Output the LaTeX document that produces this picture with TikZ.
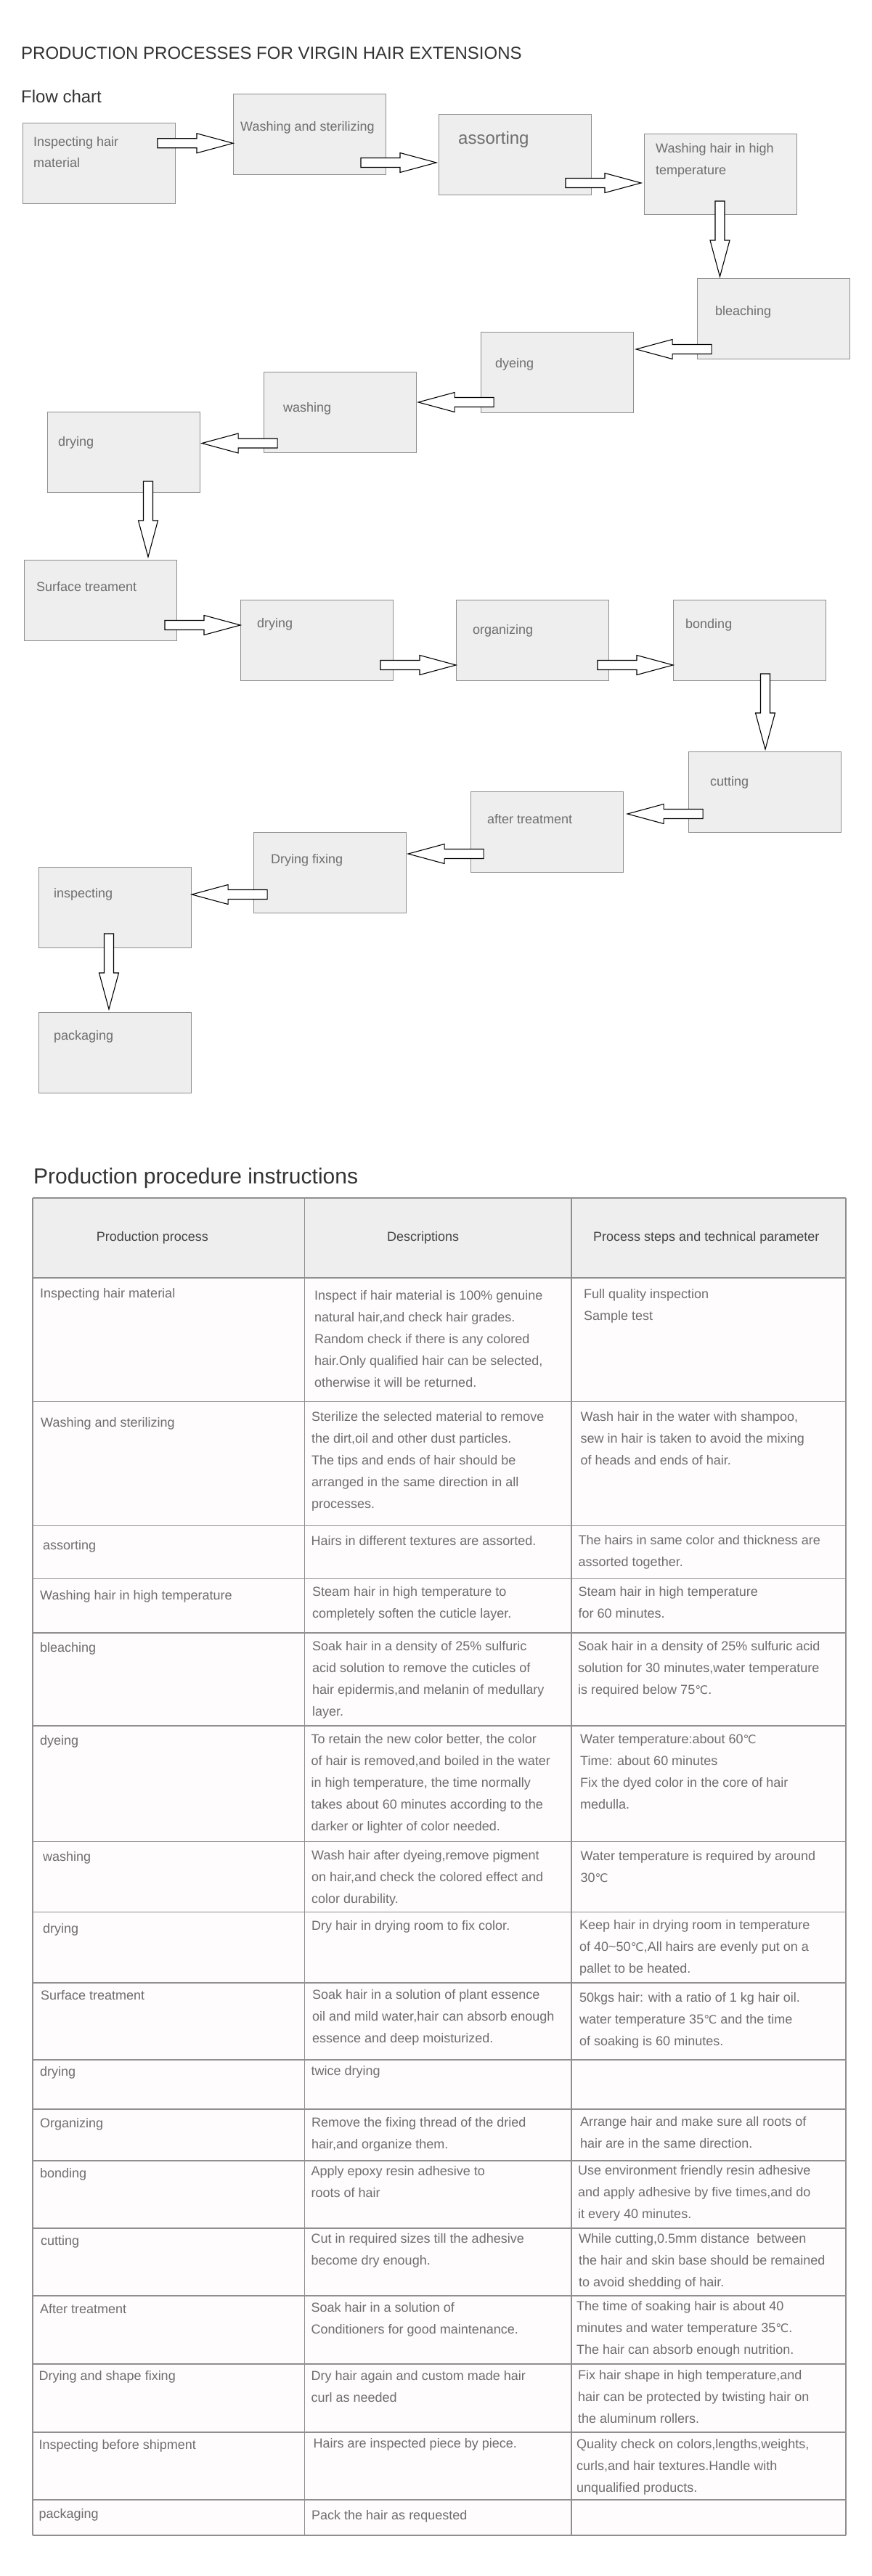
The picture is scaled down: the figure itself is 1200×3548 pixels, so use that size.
\documentclass[tikz,border=0pt]{standalone}
\usepackage{fontspec}
\setmainfont{Liberation Sans}
\newfontfamily\degfont{DejaVu Sans}
\usetikzlibrary{calc}
\definecolor{boxfill}{HTML}{EEEEEE}
\definecolor{boxline}{HTML}{8E8E8E}
\definecolor{txtgray}{HTML}{6E6E6E}
\definecolor{hdrtxt}{HTML}{444444}
\definecolor{ttltxt}{HTML}{333333}
\definecolor{hdrfill}{HTML}{EEEEEE}
\definecolor{bodyfill}{HTML}{FEFCFC}
\definecolor{tline}{HTML}{8F8F8F}
\newcommand\dc{{\degfont\fontsize{16}{30}\selectfont ℃}}
\newcommand\ctext[4]{\foreach \t [count=\i] in {#4} {\node[cellt] (#1-\i) at ({#2},{#3+30*(\i-1)}) {\t};}}
\begin{document}
\begin{tikzpicture}[x=1pt,y=-1pt,
  fbox/.style={draw=boxline,fill=boxfill,line width=1.1pt,anchor=north west,minimum width=210,minimum height=111,inner sep=0},
  ftext/.style={anchor=base west,inner sep=0,text=txtgray,font=\fontsize{18}{30}\selectfont},
  cellt/.style={anchor=base west,inner sep=0,text=txtgray,font=\fontsize{18}{30}\selectfont},
  hcell/.style={anchor=base west,inner sep=0,text=hdrtxt,font=\fontsize{18}{30}\selectfont},
  ttl/.style={anchor=base west,inner sep=0,text=ttltxt},
  blkarr/.style={draw=black,fill=white,line width=1.1pt,line join=miter},
  barrowpic/.pic={\draw[blkarr] (0,0) -- (-50,-13.5) -- (-50,-6.5) -- (-104,-6.5) -- (-104,6.5) -- (-50,6.5) -- (-50,13.5) -- cycle;}
]
\fill[white] (0,0) rectangle (1200,3548);
\useasboundingbox (0,0) rectangle (1200,3548);

% titles
\node[ttl,font=\fontsize{24}{28}\selectfont] (title) at (29,81.7) {PRODUCTION PROCESSES FOR VIRGIN HAIR EXTENSIONS};
\node[ttl,font=\fontsize{24}{28}\selectfont] (flow) at (29,141.5) {Flow chart};

% flow boxes
\node[fbox] (b1) at (31,169) {};
\node[fbox] (b2) at (321,129) {};
\node[fbox] (b3) at (604,157) {};
\node[fbox] (b4) at (887,184) {};
\node[fbox] (b5) at (960,383) {};
\node[fbox] (b6) at (662,457) {};
\node[fbox] (b7) at (363,512) {};
\node[fbox] (b8) at (65,567) {};
\node[fbox] (b9) at (33,771) {};
\node[fbox] (b10) at (331,826) {};
\node[fbox] (b11) at (628,826) {};
\node[fbox] (b12) at (927,826) {};
\node[fbox] (b13) at (948,1035) {};
\node[fbox] (b14) at (648,1090) {};
\node[fbox] (b15) at (349,1146) {};
\node[fbox] (b16) at (53,1194) {};
\node[fbox] (b17) at (53,1394) {};

% block arrows
\pic at (b2.west |- 0,197.3) {barrowpic};
\pic at ($(b3.west |- 0,224)+(-3,0)$) {barrowpic};
\pic at ($(b4.west |- 0,252)+(-4,0)$) {barrowpic};
\pic[rotate=-90] at ($(b5.north -| 991.5,0)+(0,-2)$) {barrowpic};
\pic[rotate=180] at ($(b6.east |- 0,481)+(3,0)$) {barrowpic};
\pic[rotate=180] at ($(b7.east |- 0,554)+(2,0)$) {barrowpic};
\pic[rotate=180] at ($(b8.east |- 0,610.5)+(2,0)$) {barrowpic};
\pic[rotate=-90] at ($(b9.north -| 204,0)+(0,-4)$) {barrowpic};
\pic at (b10.west |- 0,861) {barrowpic};
\pic at (b11.west |- 0,916) {barrowpic};
\pic at (b12.west |- 0,916) {barrowpic};
\pic[rotate=-90] at ($(b13.north -| 1054,0)+(0,-3)$) {barrowpic};
\pic[rotate=180] at ($(b14.east |- 0,1121)+(5,0)$) {barrowpic};
\pic[rotate=180] at ($(b15.east |- 0,1176)+(2,0)$) {barrowpic};
\pic[rotate=180] at (b16.east |- 0,1232) {barrowpic};
\pic[rotate=-90] at ($(b17.north -| 150,0)+(0,-4)$) {barrowpic};

% flow texts
\node[ftext] (t1a) at (46,201.7) {Inspecting hair};
\node[ftext] (t1b) at (46,231) {material};
\node[ftext] (t2) at (331,181) {Washing and sterilizing};
\node[ftext,font=\fontsize{24}{30}\selectfont] (t3) at (631,199) {assorting};
\node[ftext] (t4a) at (903,211) {Washing hair in high};
\node[ftext] (t4b) at (903,241) {temperature};
\node[ftext] (t5) at (985,434.7) {bleaching};
\node[ftext] (t6) at (682,506.7) {dyeing};
\node[ftext] (t7) at (390,567.7) {washing};
\node[ftext] (t8) at (80,614.3) {drying};
\node[ftext] (t9) at (50,814.3) {Surface treament};
\node[ftext] (t10) at (354,864.3) {drying};
\node[ftext] (t11) at (651,873.3) {organizing};
\node[ftext] (t12) at (944,865) {bonding};
\node[ftext] (t13) at (978,1082.7) {cutting};
\node[ftext] (t14) at (671,1134) {after treatment};
\node[ftext] (t15) at (373,1189.3) {Drying fixing};
\node[ftext] (t16) at (74,1236.7) {inspecting};
\node[ftext] (t17) at (74,1432.7) {packaging};

% table title
\node[ttl,font=\fontsize{30}{34}\selectfont] (ppi) at (46,1630) {Production procedure instructions};

% table grid
\fill[hdrfill] (45,1650) rectangle (1165,1760);
\fill[bodyfill] (45,1760) rectangle (1165,3492);
\foreach \y in {1650,1760,1930.5,2101.7,2174.7,2249,2377,2536.5,2633.5,2731,2837,2905,2976,3069,3162,3256,3350,3443,3492}
  \draw[tline,line width=1.4pt] (45,\y) -- (1165,\y);
\foreach \x in {45,419.7,787,1165}
  \draw[tline,line width=1.4pt] (\x,1650) -- (\x,3492);

% header
\node[hcell] (h1) at (132.7,1709) {Production process};
\node[hcell] (h2) at (533,1709) {Descriptions};
\node[hcell] (h3) at (817,1709) {Process steps and technical parameter};

% rows
\ctext{r1a}{55}{1787}{{Inspecting hair material}}
\ctext{r1b}{433}{1790}{{Inspect if hair material is 100\% genuine},{natural hair,and check hair grades.},{Random check if there is any colored},{hair.Only qualified hair can be selected,},{otherwise it will be returned.}}
\ctext{r1c}{804}{1788}{{Full quality inspection},{Sample test}}

\ctext{r2a}{56}{1965.5}{{Washing and sterilizing}}
\ctext{r2b}{429}{1957.5}{{Sterilize the selected material to remove},{the dirt,oil and other dust particles.},{The tips and ends of hair should be},{arranged in the same direction in all},{processes.}}
\ctext{r2c}{799.5}{1957.5}{{Wash hair in the water with shampoo,},{sew in hair is taken to avoid the mixing},{of heads and ends of hair.}}

\ctext{r3a}{59}{2134.5}{{assorting}}
\ctext{r3b}{428.5}{2128.5}{{Hairs in different textures are assorted.}}
\ctext{r3c}{796.5}{2127.5}{{The hairs in same color and thickness are},{assorted together.}}

\ctext{r4a}{55}{2203.5}{{Washing hair in high temperature}}
\ctext{r4b}{430}{2198.5}{{Steam hair in high temperature to},{completely soften the cuticle layer.}}
\ctext{r4c}{796.5}{2198.5}{{Steam hair in high temperature},{for 60 minutes.}}

\ctext{r5a}{55}{2275}{{bleaching}}
\ctext{r5b}{430}{2273.5}{{Soak hair in a density of 25\% sulfuric},{acid solution to remove the cuticles of},{hair epidermis,and melanin of medullary},{layer.}}
\ctext{r5c}{796}{2273.5}{{Soak hair in a density of 25\% sulfuric acid},{solution for 30 minutes,water temperature},{is required below 75\dc.}}

\ctext{r6a}{55}{2403}{{dyeing}}
\ctext{r6b}{428.5}{2401.5}{{To retain the new color better, the color},{of hair is removed,and boiled in the water},{in high temperature, the time normally},{takes about 60 minutes according to the},{darker or lighter of color needed.}}
\ctext{r6c}{799}{2401.5}{{Water temperature:about 60\dc},{Time: about 60 minutes},{Fix the dyed color in the core of hair},{medulla.}}

\ctext{r7a}{59}{2563.5}{{washing}}
\ctext{r7b}{429}{2561.5}{{Wash hair after dyeing,remove pigment},{on hair,and check the colored effect and},{color durability.}}
\ctext{r7c}{799.5}{2562.5}{{Water temperature is required by around},{30\dc}}

\ctext{r8a}{59}{2662.5}{{drying}}
\ctext{r8b}{429}{2658.5}{{Dry hair in drying room to fix color.}}
\ctext{r8c}{798}{2657.5}{{Keep hair in drying room in temperature},{of 40\textasciitilde50\dc,All hairs are evenly put on a},{pallet to be heated.}}

\ctext{r9a}{56}{2754.5}{{Surface treatment}}
\ctext{r9b}{430}{2753.5}{{Soak hair in a solution of plant essence},{oil and mild water,hair can absorb enough},{essence and deep moisturized.}}
\ctext{r9c}{798}{2757.5}{{50kgs hair: with a ratio of 1 kg hair oil.},{water temperature 35\dc\ and the time},{of soaking is 60 minutes.}}

\ctext{r10a}{55}{2859.5}{{drying}}
\ctext{r10b}{428.5}{2858.5}{{twice drying}}

\ctext{r11a}{55}{2930.5}{{Organizing}}
\ctext{r11b}{429}{2929.5}{{Remove the fixing thread of the dried},{hair,and organize them.}}
\ctext{r11c}{799}{2928.5}{{Arrange hair and make sure all roots of},{hair are in the same direction.}}

\ctext{r12a}{55}{2999.5}{{bonding}}
\ctext{r12b}{428.5}{2996.5}{{Apply epoxy resin adhesive to},{roots of hair}}
\ctext{r12c}{796}{2995.5}{{Use environment friendly resin adhesive},{and apply adhesive by five times,and do},{it every 40 minutes.}}

\ctext{r13a}{56}{3092.5}{{cutting}}
\ctext{r13b}{428.5}{3089.5}{{Cut in required sizes till the adhesive},{become dry enough.}}
\ctext{r13c}{797}{3089.5}{{While cutting,0.5mm distance\ \ between},{the hair and skin base should be remained},{to avoid shedding of hair.}}

\ctext{r14a}{55}{3186.5}{{After treatment}}
\ctext{r14b}{428.5}{3184.5}{{Soak hair in a solution of},{Conditioners for good maintenance.}}
\ctext{r14c}{794}{3182.5}{{The time of soaking hair is about 40},{minutes and water temperature 35\dc.},{The hair can absorb enough nutrition.}}

\ctext{r15a}{53.5}{3278.5}{{Drying and shape fixing}}
\ctext{r15b}{428.5}{3278.5}{{Dry hair again and custom made hair},{curl as needed}}
\ctext{r15c}{796}{3277.5}{{Fix hair shape in high temperature,and},{hair can be protected by twisting hair on},{the aluminum rollers.}}

\ctext{r16a}{53.5}{3373.5}{{Inspecting before shipment}}
\ctext{r16b}{431.5}{3371.5}{{Hairs are inspected piece by piece.}}
\ctext{r16c}{794}{3372.5}{{Quality check on colors,lengths,weights,},{curls,and hair textures.Handle with},{unqualified products.}}

\ctext{r17a}{53.5}{3468.5}{{packaging}}
\ctext{r17b}{429}{3470}{{Pack the hair as requested}}
\end{tikzpicture}
\end{document}
